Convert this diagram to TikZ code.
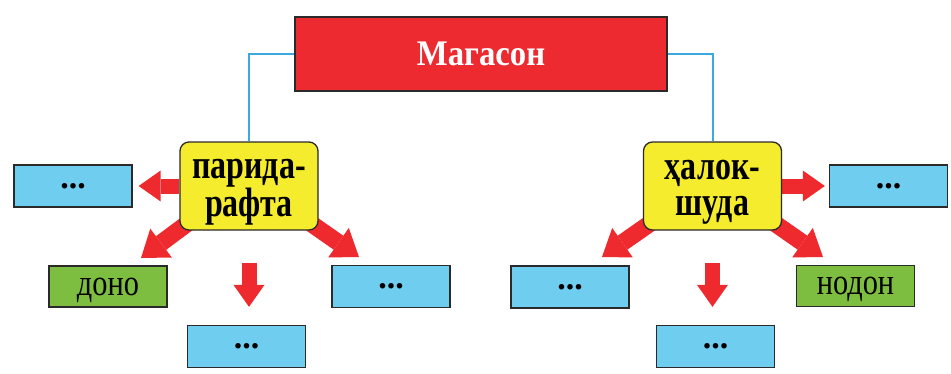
\documentclass[tikz,border=0pt]{standalone}
\usepackage{fontspec}
\setmainfont{Liberation Serif}
\newfontfamily\fmain[FakeStretch=0.91]{Liberation Serif}
\newfontfamily\fyel[FakeStretch=0.78]{Liberation Serif}
\newfontfamily\fgrn[FakeStretch=0.82]{Liberation Serif}
\usetikzlibrary{arrows.meta,backgrounds}
\definecolor{boxred}{HTML}{EC2A2F}
\definecolor{arrred}{HTML}{EE2A2E}
\definecolor{boxyel}{HTML}{F4EC2C}
\definecolor{boxblue}{HTML}{6FCDF0}
\definecolor{boxgreen}{HTML}{7DBE41}
\definecolor{linkblue}{HTML}{3BA8DE}
\definecolor{edge}{HTML}{2A2A2A}
\begin{document}
\begin{tikzpicture}[x=1pt,y=-1pt,
  frame/.style={draw=edge, line width=1.3pt, inner sep=0pt},
  topbox/.style={frame, fill=boxred, minimum width=372pt, minimum height=74pt,
    text=white, font=\fmain\bfseries\fontsize{36}{40}\selectfont},
  catbox/.style={frame, fill=boxyel, rounded corners=9pt, minimum width=138pt,
    minimum height=88pt, align=center, font=\fyel\bfseries\fontsize{41}{36}\selectfont},
  dotbox/.style={frame, fill=boxblue, minimum width=118pt, minimum height=42pt,
    font=\bfseries\fontsize{34}{34}\selectfont, text height=4pt, text depth=0pt},
  wordbox/.style={frame, fill=boxgreen, minimum width=118pt, minimum height=41pt,
    font=\fgrn\fontsize{37}{40}\selectfont, text height=17pt, text depth=0pt},
  link/.style={draw=linkblue, line width=2pt},
  fat/.style={draw=arrred, line width=15pt,
    -{Triangle[length=22pt, width=31pt, line width=0pt]}},
  fatdiag/.style={draw=arrred, line width=17pt,
    -{Triangle[length=25pt, width=36pt, line width=0pt]}}
]
\useasboundingbox (0,0) rectangle (951,373);

\node[topbox] (m) at (481,54) {Магасон};

\node[catbox] (p) at (249,186) {\rule{0pt}{31pt}парида-\\рафта};
\node[catbox] (h) at (712.5,186) {\rule{0pt}{31pt}ҳалок-\\шуда};

\node[dotbox] (pl) at (73,186) {...};
\node[wordbox] (pd) at (108,286.5) {доно};
\node[dotbox] (pb) at (246.5,346.5) {...};
\node[dotbox] (pr) at (391,286.5) {...};

\node[dotbox] (hr) at (888.5,186) {...};
\node[wordbox] (hn) at (855.5,286) {нодон};
\node[dotbox] (hl) at (570,287) {...};
\node[dotbox] (hb) at (715.5,346.5) {...};

\coordinate (pdlS) at (192,220);
\coordinate (pdlE) at (141,258);
\coordinate (pdrS) at (306,220);
\coordinate (pdrE) at (359,257);
\coordinate (hdlS) at (655,220);
\coordinate (hdlE) at (602,257);
\coordinate (hdrS) at (770,220);
\coordinate (hdrE) at (823,257);

\begin{scope}[on background layer]
  \fill[white] (0,0) rectangle (951,373);
  \draw[link] (m.west) -| (p.north);
  \draw[link] (m.east) -| (h.north);
  \draw[fat, shorten >=6pt] (p.west) -- (pl.west -| pl.east);
  \draw[fatdiag] (pdlS) -- (pdlE);
  \draw[fatdiag] (pdrS) -- (pdrE);
  \draw[fat, shorten <=32pt, shorten >=18pt] (p.south) -- (p.south |- pb.north);
  \draw[fat, shorten >=4pt] (h.east) -- (h.east -| hr.west);
  \draw[fatdiag] (hdlS) -- (hdlE);
  \draw[fatdiag] (hdrS) -- (hdrE);
  \draw[fat, shorten <=32pt, shorten >=18pt] (h.south) -- (h.south |- hb.north);
\end{scope}
\end{tikzpicture}
\end{document}
